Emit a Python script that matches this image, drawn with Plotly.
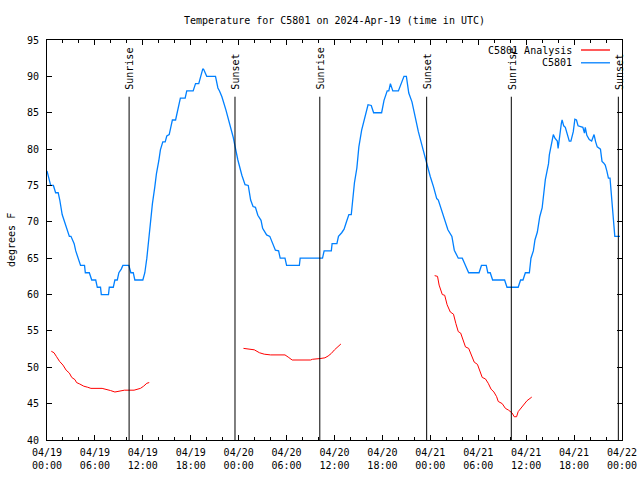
import pandas as pd
import plotly.graph_objects as go

START = pd.Timestamp("2024-04-19 00:00")

# Observed C5801 temperature (hours since 2024-04-19 00:00 UTC, degrees F)
obs_hours = [0.0, 0.46, 0.8, 1.08, 1.4, 1.6, 1.9, 2.2, 2.5, 2.8, 3.0, 3.4, 3.6, 3.9, 4.2, 4.7, 4.8, 5.3,
             5.6, 6.1, 6.3, 6.7, 6.8, 7.7, 7.8, 8.3, 8.5, 8.8, 9.0, 9.3, 9.5, 10.25, 10.5, 10.8, 11.0,
             12.0, 12.25, 12.5, 12.75, 13.0, 13.2, 13.5, 13.7, 14.0, 14.2, 14.5, 14.8, 15.0, 15.3, 15.5,
             15.7, 16.1, 16.3, 16.7, 17.3, 17.5, 18.3, 18.6, 19.0, 19.5, 19.6, 20.0, 21.1, 21.4, 21.6,
             21.9, 22.4, 22.9, 23.3, 23.6, 23.9, 24.4, 24.8, 25.2, 25.5, 25.8, 26.1, 26.4, 26.8, 27.0,
             27.5, 27.9, 28.3, 28.6, 29.0, 29.2, 29.8, 30.0, 31.6, 31.7, 34.5, 34.7, 35.6, 35.7, 36.3,
             36.5, 36.9, 37.2, 37.5, 37.8, 38.1, 38.3, 38.5, 38.8, 39.05, 39.4, 39.8, 40.2, 40.6, 40.9,
             41.9, 42.2, 42.6, 42.8, 43.0, 43.3, 44.0, 44.4, 44.7, 45.0, 45.3, 45.7, 46.0, 46.5, 47.1,
             47.6, 48.0, 48.4, 48.8, 49.0, 49.4, 49.9, 50.2, 50.7, 51.0, 51.5, 52.0, 52.4, 52.8, 54.1,
             54.4, 55.0, 55.2, 55.5, 55.8, 57.3, 57.6, 59.0, 59.3, 59.6, 59.9, 60.4, 60.6, 60.9, 61.1,
             61.4, 61.7, 62.0, 62.2, 62.4, 62.6, 62.8, 62.9, 63.2, 63.4, 63.6, 63.9, 64.0, 64.2, 64.4,
             64.5, 64.7, 64.9, 65.1, 65.4, 65.6, 65.9, 66.1, 66.3, 66.5, 67.1, 67.3, 67.4, 67.6, 67.9,
             68.2, 68.5, 68.7, 68.9, 69.3, 69.5, 69.7, 69.9, 70.1, 70.3, 70.5, 70.8, 70.9, 71.0, 71.1,
             71.75]
obs_temps = [77, 75, 75, 74, 74, 73, 71, 70, 69, 68, 68, 67, 66, 65, 64, 64, 63, 63,
             62, 62, 61, 61, 60, 60, 61, 61, 62, 62, 63, 63.5, 64, 64, 63, 63, 62,
             62, 63, 65, 68, 70.7, 72.5, 74.8, 76.6, 78.4, 79.9, 81, 81, 81.8, 82, 83,
             84, 84, 85, 87, 87, 88, 88, 89, 89, 91, 91, 90, 90, 88.4, 88,
             87.2, 85.4, 83.5, 81.7, 80.1, 78.5, 76.4, 75.1, 75, 73, 72.1, 72, 70.9, 70.2, 69.1,
             68.2, 68, 67, 66.1, 66, 65, 65, 64, 64, 65, 65, 66, 66, 67, 67,
             68, 68.5, 69, 70, 71, 71, 73, 75.4, 77.4, 80.3, 82.6, 84.5, 86.1, 86, 85,
             85, 86.7, 88, 88, 89, 88, 88, 89, 90, 90, 87.7, 86.5, 84.9, 82.4, 79.9,
             77.6, 76.2, 74.8, 73.2, 73, 71.6, 70, 68.9, 68, 66.1, 65, 65, 64, 63, 63,
             64, 64, 63, 63, 62, 62, 61, 61, 62, 62, 63, 63, 65, 66, 67.5,
             68.6, 70.7, 71.9, 74.1, 75.8, 76.9, 78, 79.2, 80.8, 82, 81.5, 81.1, 80.1, 82.2, 83.5,
             84, 83.2, 83, 82.2, 81.1, 81.1, 82.4, 84.1, 84, 83.2, 83, 82.2, 83, 81.9, 81.3,
             81.1, 82, 81, 80.3, 80, 78.3, 78.1, 77.8, 77, 76, 76, 72.3, 70.2, 68.9, 68,
             68]

# C5801 Analysis (three separate runs)
ana1_hours = [0.54, 0.875, 1.17, 1.58, 2.0, 2.4, 2.8, 3.1, 3.5, 3.7, 4.1, 4.6, 5.1, 5.5, 6.9, 7.4,
              7.96, 8.5, 8.96, 9.4, 9.7, 10.9, 11.3, 11.7, 12.1, 12.5, 12.8]
ana1_temps = [52.2, 52.0, 51.5, 50.8, 50.3, 49.6, 49.2, 48.6, 48.3, 47.9, 47.7, 47.4, 47.25, 47.1, 47.1, 47.0,
              46.8, 46.6, 46.7, 46.8, 46.85, 46.85, 47.0, 47.1, 47.4, 47.8, 47.9]
ana2_hours = [24.6, 25.3, 25.96, 26.6, 27.2, 28.0, 29.8, 30.2, 30.7, 33.0, 33.25, 34.2, 34.8, 35.2,
              35.6, 36.0, 36.4, 36.8]
ana2_temps = [52.6, 52.5, 52.4, 52.0, 51.8, 51.7, 51.7, 51.4, 51.0, 51.0, 51.1, 51.2, 51.3, 51.55,
              51.9, 52.4, 52.8, 53.2]
ana3_hours = [48.54, 48.9, 49.1, 49.5, 49.8, 50.1, 50.5, 50.9, 51.2, 51.5, 51.8, 52.07, 52.4, 52.8,
              53.2, 53.5, 53.9, 54.2, 54.5, 54.9, 55.25, 55.6, 55.96, 56.3, 56.5, 57.0, 57.4, 57.8,
              58.25, 58.5, 58.8, 59.0, 59.4, 59.7, 60.1, 60.7]
ana3_temps = [62.6, 62.5, 61.3, 60.0, 59.9, 58.6, 57.6, 57.3, 56.0, 54.9, 54.7, 53.75, 52.8, 52.6,
              51.45, 50.7, 50.4, 49.6, 48.6, 48.4, 47.8, 47.0, 46.6, 45.96, 45.3, 45.0, 44.35, 44.1,
              43.7, 43.2, 43.2, 43.9, 44.4, 44.8, 45.4, 45.9]

# Sun events (hours since start)
sun_labels = ["Sunrise", "Sunset", "Sunrise", "Sunset", "Sunrise", "Sunset"]
sun_hours = [10.28, 23.54, 34.16, 47.54, 58.14, 71.54]

y_ticks = [40, 45, 50, 55, 60, 65, 70, 75, 80, 85, 90, 95]


def to_time(hours):
    return [START + pd.Timedelta(hours=h) for h in hours]


FONT = "DejaVu Sans Mono, monospace"
BLUE = "#0080ff"
RED = "#ff0000"

fig = go.Figure()

# Analysis series with gaps
ax, ay = [], []
for hh, tt in [(ana1_hours, ana1_temps), (ana2_hours, ana2_temps), (ana3_hours, ana3_temps)]:
    ax += to_time(hh) + [None]
    ay += tt + [None]
fig.add_trace(go.Scatter(x=ax, y=ay, mode="lines", name="C5801 Analysis",
                         line=dict(color=RED, width=1), connectgaps=False, showlegend=False))
fig.add_trace(go.Scatter(x=to_time(obs_hours), y=obs_temps, mode="lines", name="C5801",
                         line=dict(color=BLUE, width=1.3), showlegend=False))

# Sunrise / sunset markers
for lab, h in zip(sun_labels, sun_hours):
    t = START + pd.Timedelta(hours=h)
    fig.add_shape(type="line", xref="x", yref="y", x0=t, x1=t, y0=40, y1=87.2,
                  line=dict(color="black", width=1))
    fig.add_annotation(x=t, y=87.9, xref="x", yref="y", text=lab, textangle=-90,
                       showarrow=False, xanchor="center", yanchor="bottom", xshift=1,
                       font=dict(family=FONT, size=10, color="black"))

# Custom legend (text then line sample, gnuplot style)
legend_rows = [("C5801 Analysis", RED, 0.975), ("C5801", BLUE, 0.943)]
for name, col, yp in legend_rows:
    fig.add_annotation(x=0.9165, y=yp, xref="paper", yref="paper", text=name, showarrow=False,
                       xanchor="right", yanchor="middle", font=dict(family=FONT, size=10, color="black"))
    fig.add_shape(type="line", xref="paper", yref="paper", x0=0.9287, x1=0.9791, y0=yp, y1=yp,
                  line=dict(color=col, width=1.3))

# Y axis title
fig.add_annotation(x=-0.0626, y=0.5, xref="paper", yref="paper", text="degrees F", textangle=-90,
                   showarrow=False, xanchor="center", yanchor="middle",
                   font=dict(family=FONT, size=10, color="black"))

fig.update_layout(
    width=640, height=480,
    margin=dict(l=47, r=18, t=40, b=40, autoexpand=False),
    paper_bgcolor="white", plot_bgcolor="white",
    font=dict(family=FONT, size=10, color="black"),
    title=dict(text="Temperature for C5801 on 2024-Apr-19 (time in UTC)", x=0.5, xref="paper",
               y=1 - 20 / 480, yref="container", yanchor="middle",
               font=dict(family=FONT, size=10, color="black")),
    showlegend=False,
)
fig.update_xaxes(
    type="date",
    range=[START, START + pd.Timedelta(hours=72)],
    tick0=START, dtick=6 * 3600 * 1000,
    tickformat="%m/%d<br>%H:%M",
    ticks="inside", ticklen=5, tickcolor="black", tickwidth=1,
    minor=dict(dtick=2 * 3600 * 1000, ticks="inside", ticklen=3, tickcolor="black", showgrid=False),
    showline=True, linecolor="black", linewidth=1, mirror="ticks",
    showgrid=False, zeroline=False, ticklabelstandoff=3,
    tickfont=dict(family=FONT, size=10, color="black"),
)
fig.update_yaxes(
    range=[40, 95], tickvals=y_ticks,
    ticks="inside", ticklen=5, tickcolor="black", tickwidth=1,
    showline=True, linecolor="black", linewidth=1, mirror="ticks",
    showgrid=False, zeroline=False, ticklabelstandoff=5,
    tickfont=dict(family=FONT, size=10, color="black"),
)

# Remove the browser's default page margin so the 640x480 figure fills the window exactly
fig.write_html("out.html",
               config={"displayModeBar": False},
               post_script="document.body.style.margin='0';document.body.style.overflow='hidden';")
